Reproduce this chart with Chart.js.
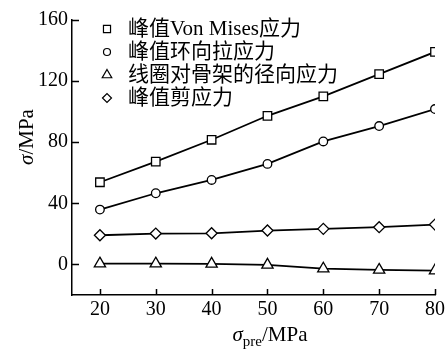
<!DOCTYPE html>
<html>
<head>
<meta charset="utf-8">
<script src="https://cdn.jsdelivr.net/npm/chart.js@4/dist/chart.umd.min.js"></script>
<style>
  html, body { margin: 0; padding: 0; background: #fff; }
  #wrap { width: 448px; height: 350px; }
</style>
</head>
<body>
<div id="wrap"><canvas id="c" width="448" height="350"></canvas></div>
<script>
// data
const preStress = [20, 30, 40, 50, 60, 70, 80];
const vonMises = [53.8, 67.3, 81.6, 97.3, 110, 124.6, 139.1];
const hoopStress = [35.9, 46.6, 55.3, 65.8, 80.5, 90.6, 101.7];
const radialStress = [0.5, 0.5, 0.4, -0.3, -2.8, -3.6, -4];
const shearStress = [19.1, 20.2, 20.4, 22.2, 23.3, 24.4, 26.1];

const seriesLabels = ['峰值Von Mises应力', '峰值环向拉应力', '线圈对骨架的径向应力', '峰值剪应力'];
const xTicks = [20, 30, 40, 50, 60, 70, 80];
const yTicks = [0, 40, 80, 120, 160];

const FONT = "'Liberation Serif', 'Noto Sans CJK SC', serif";

function series(label, values, style, radius) {
  return {
    label: label,
    data: values.map((v, i) => ({ x: preStress[i], y: v })),
    borderColor: '#000',
    borderWidth: 1.8,
    backgroundColor: '#fff',
    pointStyle: style,
    pointRadius: radius,
    pointBorderWidth: 1.3,
    pointBorderColor: '#000',
    pointBackgroundColor: '#fff',
    tension: 0
  };
}

// inward tick marks
const inwardTicks = {
  id: 'inwardTicks',
  afterDraw(chart) {
    const ctx = chart.ctx;
    const a = chart.chartArea;
    const xs = chart.scales.x, ys = chart.scales.y;
    ctx.save();
    ctx.strokeStyle = '#000';
    ctx.lineWidth = 1.5;
    ctx.beginPath();
    xTicks.forEach(v => {
      const px = Math.round(xs.getPixelForValue(v)) + 0.5;
      ctx.moveTo(px, a.bottom);
      ctx.lineTo(px, a.bottom - 6);
    });
    yTicks.forEach(v => {
      const py = Math.round(ys.getPixelForValue(v)) + 0.5;
      ctx.moveTo(a.left, py);
      ctx.lineTo(a.left + 7, py);
    });
    ctx.stroke();
    ctx.restore();
  }
};

// axis titles with italic sigma and subscript
const axisTitles = {
  id: 'axisTitles',
  afterDraw(chart) {
    const ctx = chart.ctx;
    ctx.save();
    ctx.fillStyle = '#000';
    ctx.textBaseline = 'alphabetic';
    // x title
    const it = "italic 21px " + FONT, nf = "21px " + FONT, sub = "15px " + FONT;
    ctx.font = it; const w1 = ctx.measureText('σ').width;
    ctx.font = sub; const w2 = ctx.measureText('pre').width;
    ctx.font = nf; const w3 = ctx.measureText('/MPa').width;
    let x = 270 - (w1 + w2 + w3) / 2;
    const by = 341;
    ctx.font = it; ctx.fillText('σ', x, by); x += w1;
    ctx.font = sub; ctx.fillText('pre', x, by + 5); x += w2;
    ctx.font = nf; ctx.fillText('/MPa', x, by);
    // y title
    ctx.translate(33, 137);
    ctx.rotate(-Math.PI / 2);
    ctx.font = it; const v1 = ctx.measureText('σ').width;
    ctx.font = nf; const v2 = ctx.measureText('/MPa').width;
    let yx = -(v1 + v2) / 2;
    ctx.font = it; ctx.fillText('σ', yx, 0); yx += v1;
    ctx.font = nf; ctx.fillText('/MPa', yx, 0);
    ctx.restore();
  }
};

// legend placed inside the plot, top left
const insideLegend = {
  id: 'insideLegend',
  afterDraw(chart) {
    const ctx = chart.ctx;
    const rows = [29, 52, 75, 98];
    const marks = [['rect', 5], ['circle', 3.5], ['triangle', 5.5], ['rectRot', 4.5]];
    ctx.save();
    chart.data.datasets.forEach((ds, i) => {
      ctx.strokeStyle = '#000';
      ctx.fillStyle = '#fff';
      ctx.lineWidth = 1.2;
      Chart.helpers.drawPoint(ctx, { pointStyle: marks[i][0], radius: marks[i][1], rotation: 0, borderWidth: 1.2 }, 107, rows[i]);
      ctx.fillStyle = '#000';
      ctx.font = "21px " + FONT;
      ctx.textBaseline = 'middle';
      ctx.fillText(ds.label, 128, rows[i]);
    });
    ctx.restore();
  }
};

new Chart(document.getElementById('c'), {
  type: 'line',
  data: {
    datasets: [
      series(seriesLabels[0], vonMises, 'rect', 6),
      series(seriesLabels[1], hoopStress, 'circle', 4.3),
      series(seriesLabels[2], radialStress, 'triangle', 6.5),
      series(seriesLabels[3], shearStress, 'rectRot', 5.5)
    ]
  },
  options: {
    responsive: false,
    animation: false,
    layout: { padding: { left: 0, top: 20, right: 11, bottom: 0 } },
    plugins: {
      legend: { display: false },
      tooltip: { enabled: false }
    },
    scales: {
      x: {
        type: 'linear',
        min: 15,
        max: 80,
        afterBuildTicks: s => { s.ticks = xTicks.map(v => ({ value: v })); },
        afterFit: s => { s.height = 55; },
        grid: { display: true, drawOnChartArea: false, drawTicks: false },
        border: { display: true, color: '#000', width: 1.5 },
        ticks: { color: '#000', padding: 3, font: { family: FONT, size: 20 } }
      },
      y: {
        min: -20,
        max: 160,
        afterBuildTicks: s => { s.ticks = yTicks.map(v => ({ value: v })); },
        afterFit: s => { s.width = 72; },
        grid: { display: true, drawOnChartArea: false, drawTicks: false },
        border: { display: true, color: '#000', width: 1.5 },
        ticks: { color: '#000', padding: 4, font: { family: FONT, size: 20 } }
      }
    }
  },
  plugins: [inwardTicks, axisTitles, insideLegend]
});
</script>
</body>
</html>
